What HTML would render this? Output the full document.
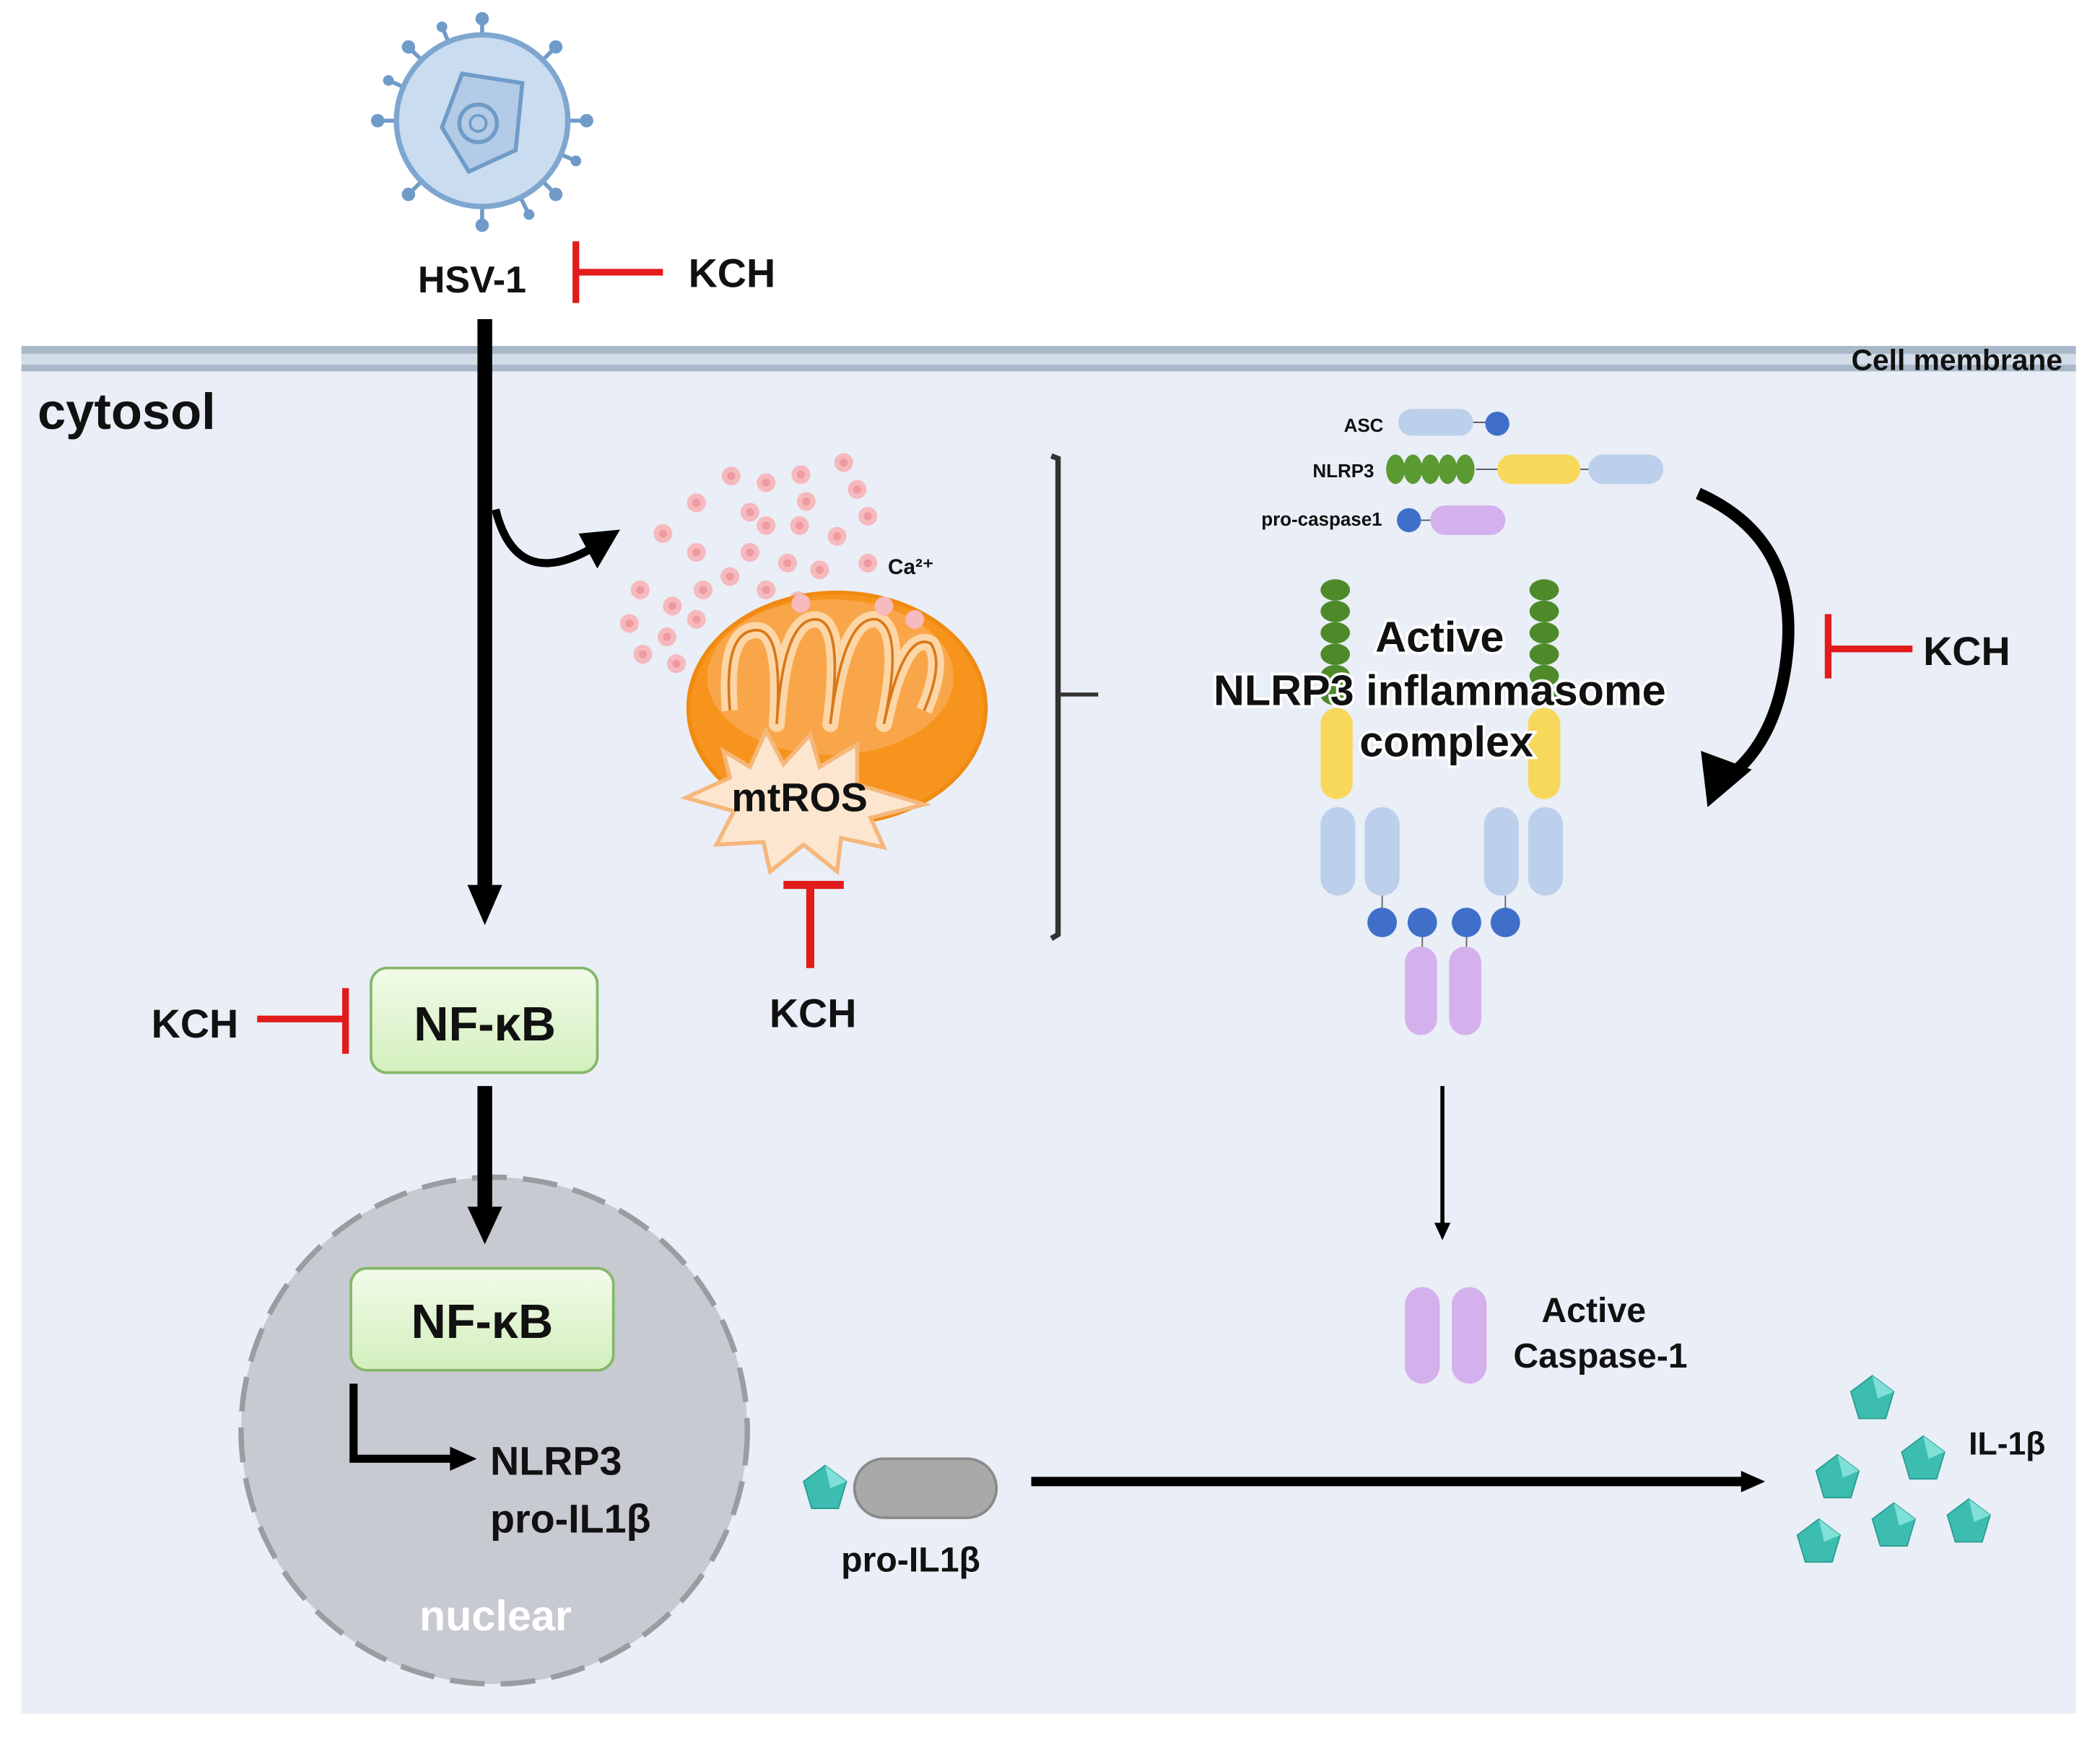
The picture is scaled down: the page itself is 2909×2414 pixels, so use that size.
<!DOCTYPE html>
<html><head><meta charset="utf-8"><style>
html,body{margin:0;padding:0;background:#fff}
svg{display:block}
text{font-family:"Liberation Sans",sans-serif;font-weight:bold;fill:#111}
</style></head><body>
<svg width="2909" height="2414" viewBox="0 0 1568 1300" preserveAspectRatio="none" xmlns="http://www.w3.org/2000/svg">
<defs>
<linearGradient id="nf" x1="0" y1="0" x2="0" y2="1"><stop offset="0" stop-color="#f2fbe9"/><stop offset="1" stop-color="#d3efbd"/></linearGradient>
<g id="pent"><polygon points="0,-17 16,-5 10,15 -10,15 -16,-5" fill="#3dbdb0" stroke="#2a9d92" stroke-width="1"/><polygon points="0,-17 16,-5 4,0" fill="#7ee0d6"/></g>
<g id="ca"><circle r="7" fill="#f6b9bd"/><circle r="3" fill="#ee9aa0"/></g>
</defs>
<rect x="16" y="262" width="1534" height="1016" fill="#e9eef7"/>
<rect x="16" y="258" width="1534" height="6" fill="#a8b8c8"/>
<rect x="16" y="264" width="1534" height="8" fill="#d3dde8"/>
<rect x="16" y="272" width="1534" height="5" fill="#a8b8c8"/>
<text x="1540" y="276" font-size="22" text-anchor="end">Cell membrane</text>
<text x="28" y="320" font-size="38">cytosol</text>

<!-- virus -->
<g stroke="#6f9bc8" stroke-width="3">
<line x1="360" y1="90" x2="360" y2="14"/><line x1="360" y1="90" x2="360" y2="168"/>
<line x1="360" y1="90" x2="282" y2="90"/><line x1="360" y1="90" x2="438" y2="90"/>
<line x1="360" y1="90" x2="305" y2="35"/><line x1="360" y1="90" x2="415" y2="35"/>
<line x1="360" y1="90" x2="305" y2="145"/><line x1="360" y1="90" x2="415" y2="145"/>
<line x1="360" y1="90" x2="290" y2="60"/><line x1="360" y1="90" x2="430" y2="120"/>
<line x1="360" y1="90" x2="330" y2="20"/><line x1="360" y1="90" x2="395" y2="160"/>
</g>
<g fill="#6f9bc8"><circle cx="360" cy="14" r="5"/><circle cx="360" cy="168" r="5"/><circle cx="282" cy="90" r="5"/><circle cx="438" cy="90" r="5"/><circle cx="305" cy="35" r="5"/><circle cx="415" cy="35" r="5"/><circle cx="305" cy="145" r="5"/><circle cx="415" cy="145" r="5"/><circle cx="290" cy="60" r="4"/><circle cx="430" cy="120" r="4"/><circle cx="330" cy="20" r="4"/><circle cx="395" cy="160" r="4"/></g>
<circle cx="360" cy="90" r="64" fill="#c9dcf0" stroke="#7ea6cf" stroke-width="4"/>
<polygon points="345,55 390,62 385,112 350,128 330,95" fill="#b3cbe6" stroke="#6f9bc8" stroke-width="3"/>
<circle cx="357" cy="92" r="14" fill="none" stroke="#6f9bc8" stroke-width="3"/>
<circle cx="357" cy="92" r="6" fill="none" stroke="#6f9bc8" stroke-width="2"/>

<text x="312" y="218" font-size="28">HSV-1</text>
<line x1="430" y1="180" x2="430" y2="226" stroke="#e21b1b" stroke-width="5"/>
<line x1="430" y1="203" x2="495" y2="203" stroke="#e21b1b" stroke-width="5"/>
<text x="514" y="214" font-size="30">KCH</text>

<!-- main arrow -->
<line x1="362" y1="238" x2="362" y2="665" stroke="#000" stroke-width="11"/>
<polygon points="349,660 375,660 362,690" fill="#000"/>
<path d="M370,380 Q385,440 440,410" fill="none" stroke="#000" stroke-width="6"/>
<polygon points="432,398 463,395 446,424" fill="#000"/>

<!-- Ca dots -->
<g>
<use href="#ca" x="546" y="355"/><use href="#ca" x="572" y="360"/><use href="#ca" x="598" y="354"/><use href="#ca" x="630" y="345"/><use href="#ca" x="520" y="375"/><use href="#ca" x="560" y="382"/><use href="#ca" x="602" y="374"/><use href="#ca" x="640" y="365"/><use href="#ca" x="495" y="398"/><use href="#ca" x="520" y="412"/><use href="#ca" x="572" y="392"/><use href="#ca" x="597" y="392"/><use href="#ca" x="625" y="400"/><use href="#ca" x="648" y="385"/><use href="#ca" x="545" y="430"/><use href="#ca" x="560" y="412"/><use href="#ca" x="588" y="420"/><use href="#ca" x="612" y="425"/><use href="#ca" x="648" y="420"/><use href="#ca" x="478" y="440"/><use href="#ca" x="502" y="452"/><use href="#ca" x="525" y="440"/><use href="#ca" x="572" y="440"/><use href="#ca" x="596" y="448"/><use href="#ca" x="470" y="465"/><use href="#ca" x="498" y="475"/><use href="#ca" x="520" y="462"/><use href="#ca" x="480" y="488"/><use href="#ca" x="505" y="495"/>
</g>
<text x="663" y="428" font-size="16">Ca²⁺</text>

<!-- mitochondrion -->
<ellipse cx="625" cy="528" rx="111" ry="86" fill="#f7941d" stroke="#f08a10" stroke-width="3"/>
<ellipse cx="620" cy="505" rx="92" ry="58" fill="#f9a64a"/>
<path d="M545,530 Q540,470 565,470 Q585,470 580,540 Q585,460 610,462 Q630,465 620,540 Q630,458 655,462 Q675,470 660,540 Q675,470 695,480 Q705,495 690,530" fill="none" stroke="#fcd6a6" stroke-width="12" stroke-linejoin="round"/>
<path d="M545,530 Q540,470 565,470 Q585,470 580,540 Q585,460 610,462 Q630,465 620,540 Q630,458 655,462 Q675,470 660,540 Q675,470 695,480 Q705,495 690,530" fill="none" stroke="#d9781a" stroke-width="2"/>
<circle cx="598" cy="450" r="7" fill="#f6b9bd"/><circle cx="660" cy="452" r="7" fill="#f6b9bd"/><circle cx="683" cy="462" r="7" fill="#f6b9bd"/>
<polygon points="540,560 560,572 572,545 585,570 605,548 612,572 640,555 640,585 690,600 650,610 660,632 628,625 625,650 600,630 575,650 570,628 535,630 548,605 512,595 545,580" fill="#fde6cf" stroke="#f5b77a" stroke-width="3"/>
<text x="597" y="605" font-size="30" text-anchor="middle">mtROS</text>
<line x1="605" y1="660" x2="605" y2="722" stroke="#e21b1b" stroke-width="6"/>
<line x1="585" y1="660" x2="630" y2="660" stroke="#e21b1b" stroke-width="6"/>
<text x="607" y="766" font-size="30" text-anchor="middle">KCH</text>

<!-- bracket -->
<path d="M785,340 L790,342 L790,697 L785,700" fill="none" stroke="#333" stroke-width="4"/>
<line x1="790" y1="518" x2="820" y2="518" stroke="#333" stroke-width="3"/>

<!-- legend -->
<text x="1033" y="322" font-size="14" text-anchor="end">ASC</text>
<rect x="1044" y="305" width="56" height="20" rx="10" fill="#bcd0ec"/><line x1="1100" y1="315" x2="1110" y2="315" stroke="#555"/><circle cx="1118" cy="316" r="9" fill="#3f6fc9"/>
<text x="1026" y="356" font-size="14" text-anchor="end">NLRP3</text>
<g fill="#5a9a30"><ellipse cx="1042" cy="350" rx="7" ry="11"/><ellipse cx="1055" cy="350" rx="7" ry="11"/><ellipse cx="1068" cy="350" rx="7" ry="11"/><ellipse cx="1081" cy="350" rx="7" ry="11"/><ellipse cx="1094" cy="350" rx="7" ry="11"/></g>
<line x1="1102" y1="350" x2="1118" y2="350" stroke="#555"/>
<rect x="1118" y="339" width="62" height="22" rx="11" fill="#f8d85a"/>
<line x1="1180" y1="350" x2="1186" y2="350" stroke="#555"/>
<rect x="1186" y="339" width="56" height="22" rx="11" fill="#bcd0ec"/>
<text x="1032" y="392" font-size="14" text-anchor="end">pro-caspase1</text>
<circle cx="1052" cy="388" r="9" fill="#3f6fc9"/><line x1="1061" y1="388" x2="1068" y2="388" stroke="#555"/>
<rect x="1068" y="377" width="56" height="22" rx="11" fill="#d4b0ec"/>

<!-- complex -->
<g fill="#4f8a2a">
<ellipse cx="997" cy="440" rx="11" ry="8"/><ellipse cx="997" cy="456" rx="11" ry="8"/><ellipse cx="997" cy="472" rx="11" ry="8"/><ellipse cx="997" cy="488" rx="11" ry="8"/><ellipse cx="997" cy="504" rx="11" ry="8"/><ellipse cx="997" cy="518" rx="11" ry="8"/>
<ellipse cx="1153" cy="440" rx="11" ry="8"/><ellipse cx="1153" cy="456" rx="11" ry="8"/><ellipse cx="1153" cy="472" rx="11" ry="8"/><ellipse cx="1153" cy="488" rx="11" ry="8"/><ellipse cx="1153" cy="504" rx="11" ry="8"/><ellipse cx="1153" cy="518" rx="11" ry="8"/>
</g>
<rect x="986" y="528" width="24" height="68" rx="12" fill="#f8d85a"/>
<rect x="1141" y="528" width="24" height="68" rx="12" fill="#f8d85a"/>
<g fill="#bcd0ec">
<rect x="986" y="602" width="26" height="66" rx="13"/><rect x="1019" y="602" width="26" height="66" rx="13"/>
<rect x="1108" y="602" width="26" height="66" rx="13"/><rect x="1141" y="602" width="26" height="66" rx="13"/>
</g>
<g stroke="#666" stroke-width="1"><line x1="1032" y1="668" x2="1032" y2="680"/><line x1="1062" y1="695" x2="1062" y2="708"/><line x1="1095" y1="695" x2="1095" y2="708"/><line x1="1124" y1="668" x2="1124" y2="680"/></g>
<g fill="#3f6fc9"><circle cx="1032" cy="688" r="11"/><circle cx="1062" cy="688" r="11"/><circle cx="1095" cy="688" r="11"/><circle cx="1124" cy="688" r="11"/></g>
<rect x="1049" y="706" width="24" height="66" rx="12" fill="#d4b0ec"/>
<rect x="1082" y="706" width="24" height="66" rx="12" fill="#d4b0ec"/>
<g font-size="32" text-anchor="middle" stroke="#fff" stroke-width="4" paint-order="stroke">
<text x="1075" y="486">Active</text>
<text x="1075" y="526">NLRP3 inflammasome</text>
<text x="1080" y="564">complex</text>
</g>

<!-- right curved arrow -->
<path d="M1268,368 Q1340,400 1335,480 Q1330,550 1290,580" fill="none" stroke="#000" stroke-width="9"/>
<polygon points="1270,560 1308,574 1275,602" fill="#000"/>
<line x1="1365" y1="458" x2="1365" y2="506" stroke="#e21b1b" stroke-width="5"/>
<line x1="1365" y1="484" x2="1428" y2="484" stroke="#e21b1b" stroke-width="5"/>
<text x="1436" y="496" font-size="30">KCH</text>

<!-- NF-kB 1 -->
<rect x="277" y="722" width="169" height="78" rx="12" fill="url(#nf)" stroke="#84b868" stroke-width="2"/>
<text x="362" y="776" font-size="36" text-anchor="middle">NF-κB</text>
<text x="113" y="774" font-size="30">KCH</text>
<line x1="192" y1="760" x2="258" y2="760" stroke="#e21b1b" stroke-width="5"/>
<line x1="258" y1="737" x2="258" y2="786" stroke="#e21b1b" stroke-width="5"/>

<!-- nucleus -->
<circle cx="369" cy="1067" r="189" fill="#c8cad1" stroke="#9a9ca2" stroke-width="4" stroke-dasharray="26 12"/>
<line x1="362" y1="810" x2="362" y2="905" stroke="#000" stroke-width="11"/>
<polygon points="349,900 375,900 362,928" fill="#000"/>
<rect x="262" y="946" width="196" height="76" rx="12" fill="url(#nf)" stroke="#84b868" stroke-width="2"/>
<text x="360" y="998" font-size="36" text-anchor="middle">NF-κB</text>
<path d="M264,1032 L264,1088 L340,1088" fill="none" stroke="#000" stroke-width="6"/>
<polygon points="336,1079 356,1088 336,1097" fill="#000"/>
<text x="366" y="1100" font-size="30">NLRP3</text>
<text x="366" y="1143" font-size="30">pro-IL1β</text>
<text x="370" y="1216" font-size="32" text-anchor="middle" style="fill:#fff">nuclear</text>

<!-- pro-IL1b -->
<rect x="638" y="1088" width="106" height="44" rx="22" fill="#a9a9a9" stroke="#8a8a8a" stroke-width="2"/>
<use href="#pent" x="616" y="1110"/>
<text x="680" y="1172" font-size="26" text-anchor="middle">pro-IL1β</text>
<line x1="770" y1="1105" x2="1305" y2="1105" stroke="#000" stroke-width="7"/>
<polygon points="1300,1097 1318,1105 1300,1113" fill="#000"/>

<!-- caspase -->
<line x1="1077" y1="810" x2="1077" y2="915" stroke="#000" stroke-width="3"/>
<polygon points="1071,912 1083,912 1077,925" fill="#000"/>
<rect x="1049" y="960" width="26" height="72" rx="13" fill="#d4b0ec"/>
<rect x="1084" y="960" width="26" height="72" rx="13" fill="#d4b0ec"/>
<text x="1190" y="986" font-size="26" text-anchor="middle">Active</text>
<text x="1195" y="1020" font-size="26" text-anchor="middle">Caspase-1</text>

<!-- IL-1b -->
<use href="#pent" x="1398" y="1043"/><use href="#pent" x="1372" y="1102"/><use href="#pent" x="1436" y="1088"/>
<use href="#pent" x="1358" y="1150"/><use href="#pent" x="1414" y="1138"/><use href="#pent" x="1470" y="1135"/>
<text x="1470" y="1085" font-size="24">IL-1β</text>
</svg>
</body></html>
